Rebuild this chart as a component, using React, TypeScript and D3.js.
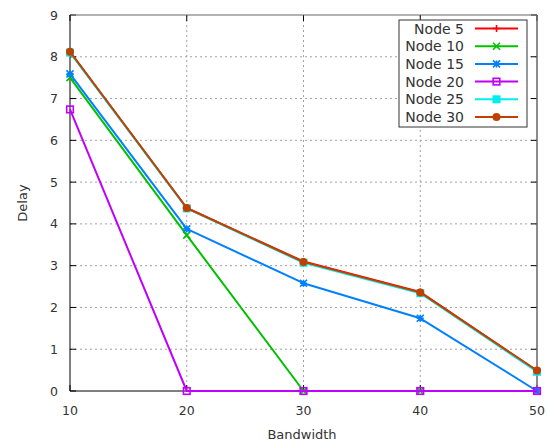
import React from "react";
import * as d3 from "d3";

const bandwidth = [10, 20, 30, 40, 50];
const seriesNames = ["Node 5", "Node 10", "Node 15", "Node 20", "Node 25", "Node 30"];
const node5 = [8.12, 4.38, 3.1, 2.37, 0.48];
const node10 = [7.5, 3.73, 0, 0, 0];
const node15 = [7.59, 3.88, 2.58, 1.74, 0];
const node20 = [6.74, 0, 0, 0, 0];
const node25 = [8.1, 4.37, 3.07, 2.34, 0.46];
const node30 = [8.12, 4.38, 3.09, 2.36, 0.49];
const seriesValues = [node5, node10, node15, node20, node25, node30];
const colors = ["#ff0000", "#00c000", "#0080ff", "#c000ff", "#00eeee", "#c04000"];
const markers = ["plus", "cross", "star", "openSquare", "square", "circle"];
const xTicks = [10, 20, 30, 40, 50];
const yTicks = [0, 1, 2, 3, 4, 5, 6, 7, 8, 9];

const W = 547, H = 443;
const L = 70, R = 537, T = 15, B = 391;
const FONT = "DejaVu Sans, sans-serif";

function Marker({ type, x, y, color }: { type: string; x: number; y: number; color: string }) {
  const s = 3.5;
  switch (type) {
    case "plus":
      return <path d={`M${x - s},${y}H${x + s}M${x},${y - s}V${y + s}`} stroke={color} strokeWidth={1.6} fill="none" />;
    case "cross":
      return <path d={`M${x - s},${y - s}L${x + s},${y + s}M${x - s},${y + s}L${x + s},${y - s}`} stroke={color} strokeWidth={1.6} fill="none" />;
    case "star":
      return <path d={`M${x - s},${y - s}L${x + s},${y + s}M${x - s},${y + s}L${x + s},${y - s}M${x - s},${y}H${x + s}M${x},${y - s}V${y + s}`} stroke={color} strokeWidth={1.6} fill="none" />;
    case "openSquare":
      return <rect x={x - 3.3} y={y - 3.3} width={6.6} height={6.6} stroke={color} strokeWidth={1.6} fill="none" />;
    case "square":
      return <rect x={x - 4} y={y - 4} width={8} height={8} fill={color} />;
    default:
      return <circle cx={x} cy={y} r={4} fill={color} />;
  }
}

export default function App() {
  const x = d3.scaleLinear().domain([10, 50]).range([L, R]);
  const y = d3.scaleLinear().domain([0, 9]).range([B, T]);
  const line = d3.line<number>().x((_, i) => x(bandwidth[i])).y((d) => y(d));

  const legX0 = 399, legY0 = 20, legW = 128, legH = 107;
  const rowH = 17.7;

  return (
    <svg width={W} height={H} style={{ position: "absolute", left: 0, top: 0, background: "#fff" }} fontFamily={FONT}>
      {/* grid */}
      {yTicks.slice(1, -1).map((t) => (
        <line key={"gy" + t} x1={L} x2={R} y1={y(t)} y2={y(t)} stroke="#a0a0a0" strokeWidth={1} strokeDasharray="2,3" />
      ))}
      {xTicks.slice(1, -1).map((t) => (
        <line key={"gx" + t} x1={x(t)} x2={x(t)} y1={T} y2={B} stroke="#a0a0a0" strokeWidth={1} strokeDasharray="2,3" />
      ))}
      {/* ticks */}
      {yTicks.map((t) => (
        <g key={"ty" + t}>
          <line x1={L} x2={L + 6} y1={y(t)} y2={y(t)} stroke="#000" />
          <line x1={R - 6} x2={R} y1={y(t)} y2={y(t)} stroke="#000" />
          <text x={58} y={y(t) + 4.5} textAnchor="end" fontSize={12.5} fill="#333">{t}</text>
        </g>
      ))}
      {xTicks.map((t) => (
        <g key={"tx" + t}>
          <line x1={x(t)} x2={x(t)} y1={B} y2={B - 6} stroke="#000" />
          <line x1={x(t)} x2={x(t)} y1={T} y2={T + 6} stroke="#000" />
          <text x={x(t)} y={415} textAnchor="middle" fontSize={12.5} fill="#333">{t}</text>
        </g>
      ))}
      {/* border */}
      <line x1={L} x2={R} y1={T} y2={T} stroke="#666" strokeWidth={1.2} />
      <line x1={R} x2={R} y1={T} y2={B} stroke="#666" strokeWidth={1.5} />
      <line x1={L} x2={L} y1={T} y2={B} stroke="#000" strokeWidth={1} />
      <line x1={L} x2={R} y1={B} y2={B} stroke="#000" strokeWidth={1} />

      {/* series */}
      {seriesValues.map((vals, si) => (
        <g key={"s" + si}>
          <path d={line(vals) || ""} stroke={colors[si]} strokeWidth={2} fill="none" strokeLinejoin="round" />
          {vals.map((v, i) => (
            <Marker key={i} type={markers[si]} x={x(bandwidth[i])} y={y(v)} color={colors[si]} />
          ))}
        </g>
      ))}

      {/* legend */}
      <rect x={legX0} y={legY0} width={legW} height={legH} fill="#fff" stroke="#333" strokeWidth={1} />
      {seriesNames.map((n, i) => {
        const ry = legY0 + 8.5 + i * rowH;
        return (
          <g key={"l" + i}>
            <text x={464} y={ry + 5} textAnchor="end" fontSize={14} fill="#333">{n}</text>
            <line x1={475} x2={518} y1={ry} y2={ry} stroke={colors[i]} strokeWidth={2} />
            <Marker type={markers[i]} x={496.5} y={ry} color={colors[i]} />
          </g>
        );
      })}

      {/* axis labels */}
      <text x={302} y={439} textAnchor="middle" fontSize={13} fill="#333">Bandwidth</text>
      <text transform={`translate(27,${(T + B) / 2}) rotate(-90)`} textAnchor="middle" fontSize={13} fill="#333">Delay</text>
    </svg>
  );
}
